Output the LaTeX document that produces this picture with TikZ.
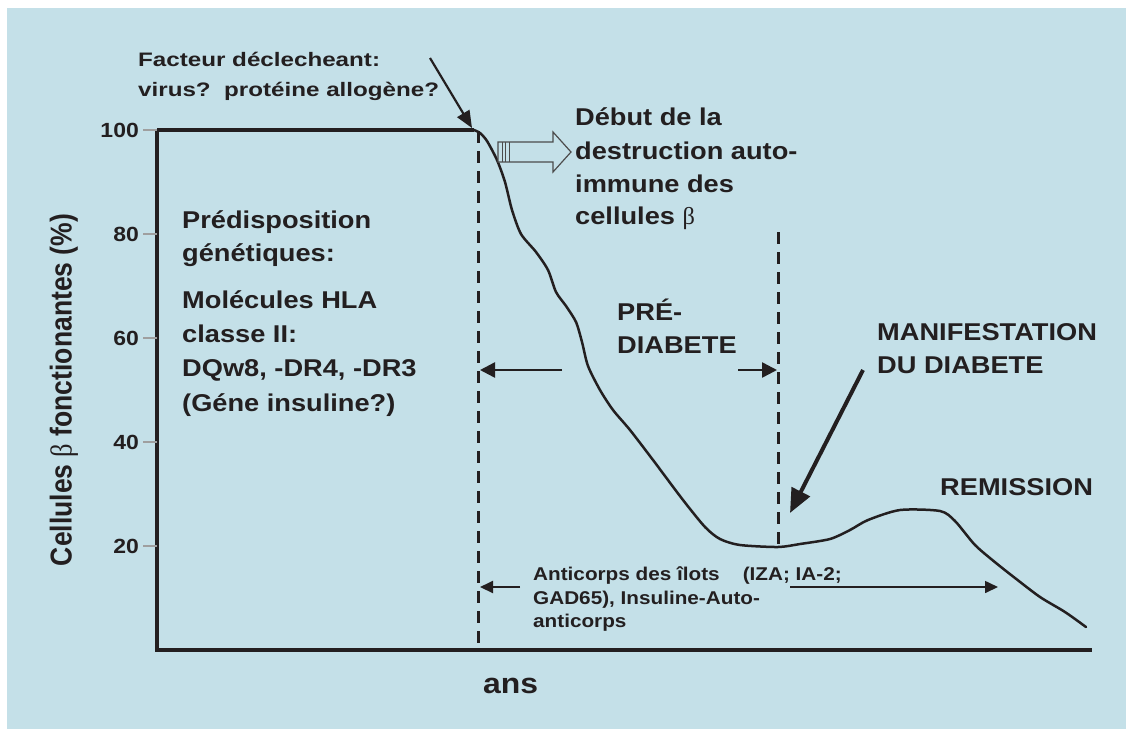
\documentclass[tikz,border=0pt]{standalone}
\usepackage{fontspec}
\setmainfont[FakeStretch=1.12]{Liberation Sans}
\newfontfamily\widefont[FakeStretch=1.24]{Liberation Sans}
\newfontfamily\plainfont{Liberation Sans}
\newfontfamily\greekfont{Liberation Serif}
\usetikzlibrary{arrows.meta}
\definecolor{bg}{RGB}{196,224,232}
\definecolor{ink}{RGB}{35,31,32}
\begin{document}
\begin{tikzpicture}[x=1pt,y=-1pt,
  txt/.style={inner sep=0pt, anchor=base west, text=ink},
  big/.style={txt, font=\bfseries\fontsize{24.3}{29}\selectfont},
  small/.style={txt, font=\bfseries\fontsize{18.5}{22}\selectfont},
  wide/.style={txt, font=\widefont\bfseries\fontsize{19.5}{23}\selectfont},
  tickmark/.style={draw=gray!75, line width=1.5pt},
  ticklab/.style={inner sep=0pt, anchor=east, text=ink, font=\bfseries\fontsize{20.5}{24}\selectfont},
  axisline/.style={line width=4.5pt, draw=ink},
  vdash/.style={line width=3pt, draw=ink, dash pattern=on 12pt off 8pt},
  curveline/.style={line width=2.5pt, draw=ink, line join=round, line cap=round},
  thinarrow/.style={line width=2pt, draw=ink, -{Triangle[length=13pt,width=12pt]}},
]
\useasboundingbox (0,0) rectangle (1126,729);
\fill[white] (0,0) rectangle (1126,729);
\fill[bg] (7,8) rectangle (1126,729);

% axes
\coordinate (top) at (157,130);
\coordinate (orig) at (157,650);
\coordinate (xend) at (1092,650);
\coordinate (start) at (474,130);
\draw[line width=3.5pt, draw=ink] (top) -- (start);
\draw[axisline] (top) -- (orig) -- (xend);

% ticks
\foreach \v/\yy in {100/130, 80/234, 60/338, 40/442, 20/546}{
  \draw[tickmark] (143,\yy) -- (157,\yy);
  \node[ticklab] (t\v) at (139,\yy) {\v};
}

% dashed lines
\coordinate (d1a) at (478,131);
\coordinate (d1b) at (478,650);
\coordinate (d2a) at (778,232);
\coordinate (d2b) at (778,547);
\draw[vdash] (d1a) -- (d1b);
\draw[vdash] (d2a) -- (d2b);

% curve
\draw[curveline] plot[smooth, tension=0.45] coordinates {
 (474,130) (480,133) (487,141) (497,160) (505,182) (512,210) (521,234) (536,252)
 (548,270) (556,292) (566,306) (576,322) (582,342) (588,366) (600,390) (613,410)
 (630,430) (653,460) (683,500) (705,527) (720,539) (740,545) (778,547) (800,544)
 (830,539) (850,530) (868,520) (900,510) (940,511) (955,521) (975,545) (996,563)
 (1015,578) (1040,597) (1065,612) (1086,627)};

% hollow arrow
\draw[draw=gray!60!black, line width=1.2pt, fill=bg, line join=miter]
  (498,142) -- (553,142) -- (553,132) -- (571,152) -- (553,172) -- (553,162) -- (498,162) -- cycle;
\foreach \xx in {502,505.5,509}{\draw[gray!60!black, line width=0.9pt] (\xx,142) -- (\xx,162);}

% trigger arrow
\coordinate (fa) at (430,58);
\coordinate (fb) at (472,128);
\draw[line width=2.2pt, draw=ink, -{Triangle[length=17pt,width=14pt]}] (fa) -- (fb);

% texts
\node[wide] (f1) at (138,66) {Facteur déclecheant:};
\node[wide] (f2) at (138,96) {virus?\ \ protéine allogène?};

\node[big] (b1) at (575,125) {Début de la};
\node[big] (b2) at (575,159) {destruction auto-};
\node[big] (b3) at (575,192) {immune des};
\node[big] (b4) at (575,224) {cellules {\greekfont\mdseries β}};

\node[big] (p1) at (182,228) {Prédisposition};
\node[big] (p2) at (182,261) {génétiques:};
\node[big] (h1) at (182,308) {Molécules HLA};
\node[big] (h2) at (182,342) {classe II:};
\node[big] (h3) at (182,376) {DQw8, -DR4, -DR3};
\node[big] (h4) at (182,411) {(Géne insuline?)};

\node[big] (pd1) at (617,320) {PRÉ-};
\node[big] (pd2) at (617,353) {DIABETE};

\node[big] (m1) at (877,340) {MANIFESTATION};
\node[big] (m2) at (877,373) {DU DIABETE};

\node[big] (rem) at (940,495) {REMISSION};

\node[small] (a1) at (533,580) {Anticorps des îlots\ \ \ \ (IZA; IA-2;};
\node[small] (a2) at (533,604) {GAD65), Insuline-Auto-};
\node[small] (a3) at (533,627) {anticorps};

\node[txt, font=\bfseries\fontsize{28.5}{32}\selectfont] (ans) at (483,693) {ans};

\node[rotate=90, inner sep=0pt, text=ink, font=\plainfont\bfseries\fontsize{26.5}{30}\selectfont] (ylab) at (64,390)
  {\scalebox{1}[1.14]{Cellules {\greekfont\mdseries β} fonctionantes (\%)}};

% pre-diabete arrows
\coordinate (pl0) at (562,370);
\coordinate (pl1) at (480,370);
\coordinate (pr0) at (738,370);
\coordinate (pr1) at (777,370);
\draw[line width=2.5pt, draw=ink, -{Triangle[length=15pt,width=15pt]}] (pl0) -- (pl1);
\draw[line width=2.5pt, draw=ink, -{Triangle[length=15pt,width=15pt]}] (pr0) -- (pr1);

% manifestation arrow
\coordinate (ma) at (863,370);
\coordinate (mb) at (790,513);
\draw[line width=4pt, draw=ink, -{Triangle[length=24pt,width=20pt]}] (ma) -- (mb);

% antibody arrows
\coordinate (al0) at (520,587);
\coordinate (al1) at (480,587);
\coordinate (ar0) at (790,587);
\coordinate (ar1) at (998,587);
\draw[thinarrow] (al0) -- (al1);
\draw[line width=1.6pt, draw=ink, -{Triangle[length=13pt,width=12pt]}] (ar0) -- (ar1);
\end{tikzpicture}
\end{document}
